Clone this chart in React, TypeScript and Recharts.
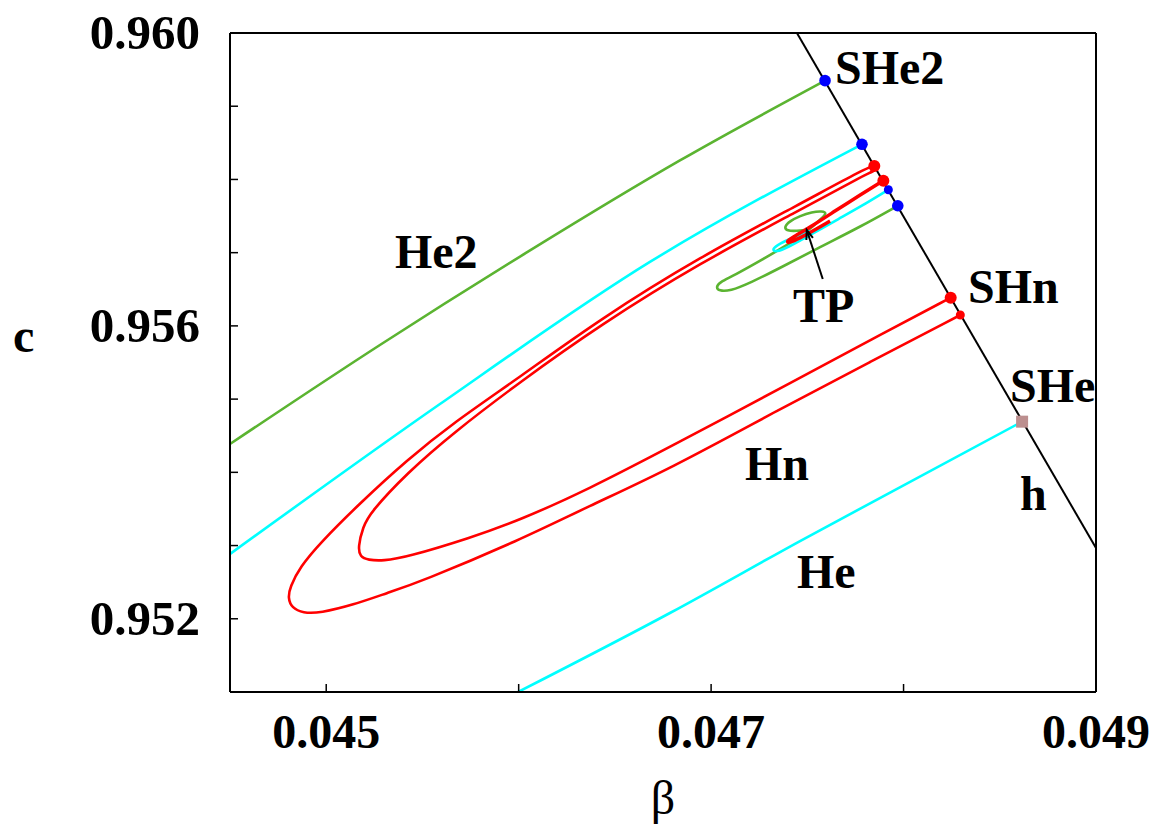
import React from 'react';
import { ComposedChart, Line, Scatter, XAxis, YAxis } from 'recharts';

type Pt = { x: number; y: number };
type Note = { x: number; y: number; text: string };

// axis ticks (beta on x, c on y)
const xTicks = [0.045, 0.046, 0.047, 0.048, 0.049];
const xTickLabels = ['0.045', '', '0.047', '', '0.049'];
const yTicks = [0.951, 0.952, 0.953, 0.954, 0.955, 0.956, 0.957, 0.958, 0.959, 0.96];
const yTickLabels = ['', '0.952', '', '', '', '0.956', '', '', '', '0.960'];

// curve h (black)
const curveH: Pt[] = [
    { x: 0.047446, y: 0.96 },
    { x: 0.049, y: 0.952967 },
];

// He2, outer branch (green)
const he2Outer: Pt[] = [
    { x: 0.0445, y: 0.954387 },
    { x: 0.045279, y: 0.955739 },
    { x: 0.046059, y: 0.95703 },
    { x: 0.046838, y: 0.958259 },
    { x: 0.047592, y: 0.959349 },
];

// He2, spiral into TP (green)
const he2Inner: Pt[] = [
    { x: 0.04797, y: 0.957641 },
    { x: 0.047774, y: 0.957351 },
    { x: 0.047566, y: 0.957077 },
    { x: 0.047358, y: 0.956791 },
    { x: 0.047202, y: 0.956586 },
    { x: 0.047098, y: 0.956476 },
    { x: 0.047041, y: 0.956476 },
    { x: 0.047025, y: 0.956531 },
    { x: 0.047046, y: 0.956599 },
    { x: 0.047114, y: 0.956681 },
    { x: 0.04729, y: 0.956941 },
    { x: 0.047394, y: 0.957105 },
    { x: 0.047462, y: 0.957214 },
    { x: 0.047524, y: 0.957351 },
    { x: 0.047576, y: 0.957473 },
    { x: 0.047602, y: 0.957542 },
    { x: 0.047576, y: 0.957569 },
    { x: 0.047524, y: 0.957555 },
    { x: 0.047462, y: 0.957501 },
    { x: 0.04741, y: 0.957432 },
    { x: 0.047379, y: 0.957351 },
    { x: 0.047394, y: 0.957296 },
    { x: 0.047446, y: 0.957296 },
    { x: 0.047493, y: 0.95731 },
];

// He upper branch (cyan)
const heUpper: Pt[] = [
    { x: 0.0445, y: 0.952885 },
    { x: 0.045591, y: 0.954933 },
    { x: 0.046682, y: 0.956873 },
    { x: 0.047784, y: 0.95848 },
];

// He spiral into TP (cyan)
const heInner: Pt[] = [
    { x: 0.047921, y: 0.95786 },
    { x: 0.047774, y: 0.957624 },
    { x: 0.04767, y: 0.957473 },
    { x: 0.047514, y: 0.957241 },
    { x: 0.047394, y: 0.957064 },
    { x: 0.047337, y: 0.957009 },
    { x: 0.047316, y: 0.957036 },
    { x: 0.047342, y: 0.957105 },
    { x: 0.04741, y: 0.957187 },
    { x: 0.047462, y: 0.957241 },
    { x: 0.047514, y: 0.957296 },
];

// He lower branch (cyan)
const heLower: Pt[] = [
    { x: 0.045997, y: 0.951 },
    { x: 0.046786, y: 0.952079 },
    { x: 0.047462, y: 0.953062 },
    { x: 0.048616, y: 0.954692 },
];

// Hn outer hairpin (red)
const hnOuter: Pt[] = [
    { x: 0.048295, y: 0.956149 },
    { x: 0.047826, y: 0.955507 },
    { x: 0.047358, y: 0.954865 },
    { x: 0.046786, y: 0.954045 },
    { x: 0.046355, y: 0.953527 },
    { x: 0.046007, y: 0.953076 },
    { x: 0.045487, y: 0.952502 },
    { x: 0.045316, y: 0.952352 },
    { x: 0.045139, y: 0.952188 },
    { x: 0.044968, y: 0.952079 },
    { x: 0.044879, y: 0.952079 },
    { x: 0.044822, y: 0.952147 },
    { x: 0.044801, y: 0.952284 },
    { x: 0.044812, y: 0.952434 },
    { x: 0.044864, y: 0.952707 },
    { x: 0.044968, y: 0.953035 },
    { x: 0.045176, y: 0.953581 },
    { x: 0.04542, y: 0.954168 },
    { x: 0.045659, y: 0.954674 },
    { x: 0.046007, y: 0.955302 },
    { x: 0.046423, y: 0.956094 },
    { x: 0.046942, y: 0.956941 },
    { x: 0.047462, y: 0.957665 },
    { x: 0.047805, y: 0.958156 },
    { x: 0.047848, y: 0.958184 },
];

// Hn inner hairpin (red)
const hnInner: Pt[] = [
    { x: 0.048245, y: 0.956385 },
    { x: 0.047826, y: 0.955807 },
    { x: 0.047462, y: 0.955288 },
    { x: 0.046786, y: 0.954346 },
    { x: 0.046355, y: 0.953759 },
    { x: 0.046007, y: 0.953349 },
    { x: 0.045747, y: 0.953103 },
    { x: 0.04542, y: 0.952844 },
    { x: 0.045295, y: 0.952789 },
    { x: 0.045217, y: 0.952803 },
    { x: 0.045176, y: 0.952844 },
    { x: 0.045165, y: 0.95298 },
    { x: 0.045191, y: 0.953253 },
    { x: 0.045227, y: 0.953445 },
    { x: 0.04542, y: 0.953991 },
    { x: 0.045659, y: 0.954537 },
    { x: 0.046007, y: 0.955234 },
    { x: 0.046423, y: 0.956012 },
    { x: 0.046942, y: 0.956859 },
    { x: 0.047462, y: 0.957583 },
    { x: 0.047805, y: 0.958074 },
    { x: 0.047862, y: 0.958129 },
    { x: 0.047848, y: 0.958184 },
];

// Hn branch into TP (red)
const hnSpiral: Pt[] = [
    { x: 0.047895, y: 0.957983 },
    { x: 0.047774, y: 0.957788 },
    { x: 0.047644, y: 0.957569 },
    { x: 0.047524, y: 0.957364 },
    { x: 0.047436, y: 0.957228 },
    { x: 0.047389, y: 0.957152 },
    { x: 0.047405, y: 0.957132 },
    { x: 0.047462, y: 0.9572 },
    { x: 0.047529, y: 0.957296 },
    { x: 0.047618, y: 0.957432 },
];

// special points on h
const blueBig: Pt[] = [
    { x: 0.047592, y: 0.959349 },
    { x: 0.047784, y: 0.95848 },
    { x: 0.04797, y: 0.957641 },
];
const blueSmall: Pt[] = [{ x: 0.047921, y: 0.95786 }];
const redBig: Pt[] = [
    { x: 0.047848, y: 0.958184 },
    { x: 0.047895, y: 0.957983 },
    { x: 0.048245, y: 0.956385 },
];
const redSmall: Pt[] = [{ x: 0.048295, y: 0.956149 }];
const sheSquare: Pt[] = [{ x: 0.048616, y: 0.954692 }];

// TP arrow
const arrowShaft: Pt[] = [
    { x: 0.04758, y: 0.95664 },
    { x: 0.047497, y: 0.95731 },
];
const arrowHead: Pt[] = [
    { x: 0.047495, y: 0.957173 },
    { x: 0.047497, y: 0.95731 },
    { x: 0.047529, y: 0.957202 },
];

// text annotations (left edge / baseline)
const notes: Note[] = [
    { x: 0.047644, y: 0.959303, text: 'SHe2' },
    { x: 0.048335, y: 0.956313, text: 'SHn' },
    { x: 0.048553, y: 0.954961, text: 'SHe' },
    { x: 0.048605, y: 0.953486, text: 'h' },
    { x: 0.047176, y: 0.953895, text: 'Hn' },
    { x: 0.047446, y: 0.95242, text: 'He' },
    { x: 0.045357, y: 0.956791, text: 'He2' },
    { x: 0.047426, y: 0.956053, text: 'TP' },
];

const FONT = '"Liberation Serif", "Times New Roman", Times, serif';
const GREEN = '#5bb431';
const CYAN = '#00ffff';
const RED = '#ff0000';
const BLUE = '#0000ff';
const TICK = 8;

const BottomTick = (props: any) => {
    const { x, y, index } = props;
    const label = xTickLabels[index];
    return (
        <g>
            <line x1={x} y1={y} x2={x} y2={y - TICK} stroke="#000" strokeWidth={1.5} />
            {label && (
                <text x={x} y={y + 56} textAnchor="middle" fontFamily={FONT} fontWeight="bold" fontSize={48} fill="#000">
                    {label}
                </text>
            )}
        </g>
    );
};

const TopTick = (props: any) => {
    const { x, y } = props;
    return <line x1={x} y1={y} x2={x} y2={y + TICK} stroke="#000" strokeWidth={1.5} />;
};

const LeftTick = (props: any) => {
    const { x, y, index } = props;
    const label = yTickLabels[index];
    return (
        <g>
            <line x1={x} y1={y} x2={x + TICK} y2={y} stroke="#000" strokeWidth={1.5} />
            {label && (
                <text x={x - 30} y={y + 16} textAnchor="end" fontFamily={FONT} fontWeight="bold" fontSize={49} fill="#000">
                    {label}
                </text>
            )}
        </g>
    );
};

const RightTick = (props: any) => {
    const { x, y } = props;
    return <line x1={x} y1={y} x2={x - TICK} y2={y} stroke="#000" strokeWidth={1.5} />;
};

const dot = (r: number, fill: string) => (props: any) => <circle cx={props.cx} cy={props.cy} r={r} fill={fill} />;

const square = (props: any) => <rect x={props.cx - 6} y={props.cy - 6} width={12} height={12} fill="#bc8f8f" />;

const noteText = (props: any) => (
    <text x={props.cx} y={props.cy} fontFamily={FONT} fontWeight="bold" fontSize={48} fill="#000">
        {props.payload.text}
    </text>
);

const axisLine = { stroke: '#000', strokeWidth: 2 };

export default function App() {
    return (
        <div style={{ position: 'absolute', left: 0, top: 0, width: 1161, height: 828, background: '#fff' }}>
            <ComposedChart width={1161} height={828} margin={{ top: 32, right: 64, bottom: 0, left: 0 }}>
                <XAxis
                    dataKey="x"
                    type="number"
                    scale="linear"
                    domain={[0.0445, 0.049]}
                    ticks={xTicks}
                    interval={0}
                    height={136}
                    tickSize={0}
                    tickMargin={0}
                    tickLine={false}
                    axisLine={axisLine}
                    tick={<BottomTick />}
                />
                <XAxis
                    xAxisId="top"
                    orientation="top"
                    type="number"
                    scale="linear"
                    domain={[0.0445, 0.049]}
                    ticks={xTicks}
                    interval={0}
                    height={1}
                    tickSize={0}
                    tickMargin={0}
                    tickLine={false}
                    axisLine={axisLine}
                    tick={<TopTick />}
                />
                <YAxis
                    dataKey="y"
                    type="number"
                    scale="linear"
                    domain={[0.951, 0.96]}
                    ticks={yTicks}
                    interval={0}
                    width={230}
                    tickSize={0}
                    tickMargin={0}
                    tickLine={false}
                    axisLine={axisLine}
                    tick={<LeftTick />}
                />
                <YAxis
                    yAxisId="right"
                    orientation="right"
                    type="number"
                    scale="linear"
                    domain={[0.951, 0.96]}
                    ticks={yTicks}
                    interval={0}
                    width={1}
                    tickSize={0}
                    tickMargin={0}
                    tickLine={false}
                    axisLine={axisLine}
                    tick={<RightTick />}
                />

                <Line data={curveH} dataKey="y" type="linear" stroke="#000" strokeWidth={2} dot={false} activeDot={false} isAnimationActive={false} />
                <Line data={he2Outer} dataKey="y" type="monotoneX" stroke={GREEN} strokeWidth={2.6} dot={false} activeDot={false} isAnimationActive={false} />
                <Line data={he2Inner} dataKey="y" type="basis" stroke={GREEN} strokeWidth={2.6} dot={false} activeDot={false} isAnimationActive={false} />
                <Line data={heUpper} dataKey="y" type="monotoneX" stroke={CYAN} strokeWidth={2.6} dot={false} activeDot={false} isAnimationActive={false} />
                <Line data={heInner} dataKey="y" type="basis" stroke={CYAN} strokeWidth={2.6} dot={false} activeDot={false} isAnimationActive={false} />
                <Line data={heLower} dataKey="y" type="monotoneX" stroke={CYAN} strokeWidth={2.6} dot={false} activeDot={false} isAnimationActive={false} />
                <Line data={hnOuter} dataKey="y" type="basis" stroke={RED} strokeWidth={2.6} dot={false} activeDot={false} isAnimationActive={false} />
                <Line data={hnInner} dataKey="y" type="basis" stroke={RED} strokeWidth={2.6} dot={false} activeDot={false} isAnimationActive={false} />
                <Line data={hnSpiral} dataKey="y" type="basis" stroke={RED} strokeWidth={3.5} dot={false} activeDot={false} isAnimationActive={false} />
                <Line data={arrowShaft} dataKey="y" type="linear" stroke="#000" strokeWidth={2} dot={false} activeDot={false} isAnimationActive={false} />
                <Line data={arrowHead} dataKey="y" type="linear" stroke="#000" strokeWidth={2} dot={false} activeDot={false} isAnimationActive={false} />

                <Scatter data={blueBig} fill={BLUE} shape={dot(5.8, BLUE)} isAnimationActive={false} />
                <Scatter data={blueSmall} fill={BLUE} shape={dot(4.5, BLUE)} isAnimationActive={false} />
                <Scatter data={redBig} fill={RED} shape={dot(6, RED)} isAnimationActive={false} />
                <Scatter data={redSmall} fill={RED} shape={dot(4.5, RED)} isAnimationActive={false} />
                <Scatter data={sheSquare} fill="#bc8f8f" shape={square} isAnimationActive={false} />
                <Scatter data={notes} fill="#000" shape={noteText} isAnimationActive={false} />
            </ComposedChart>
            <svg width={1161} height={828} style={{ position: 'absolute', left: 0, top: 0, pointerEvents: 'none' }}>
                <text x={13} y={352} fontFamily={FONT} fontWeight="bold" fontSize={48} fill="#000">
                    c
                </text>
                <text x={663} y={814} textAnchor="middle" fontFamily={FONT} fontSize={48} fill="#000">
                    β
                </text>
            </svg>
        </div>
    );
}
